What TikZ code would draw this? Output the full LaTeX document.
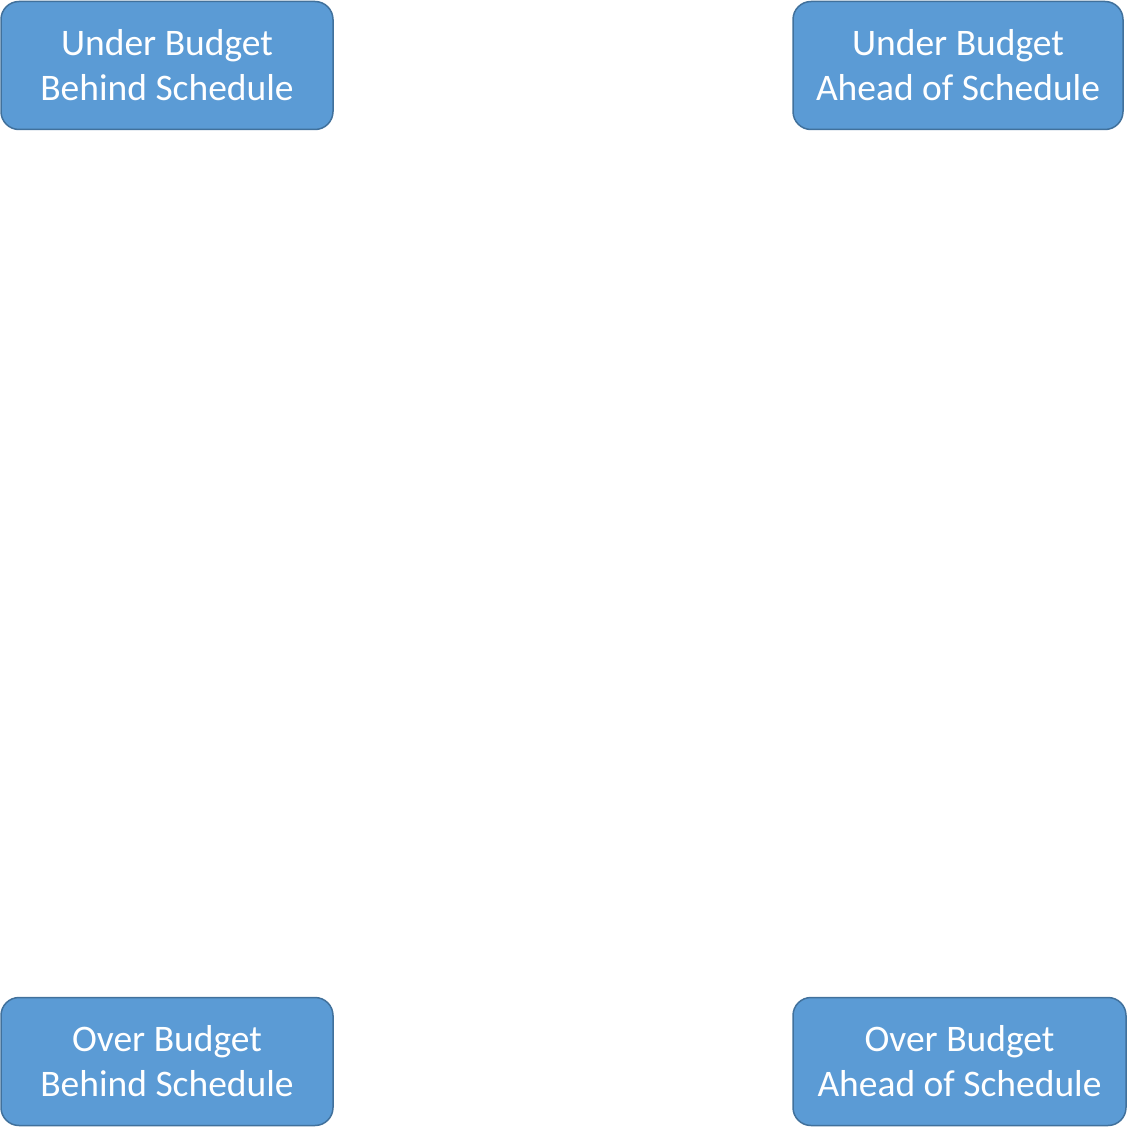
\documentclass[tikz,border=0pt]{standalone}
\usepackage{fontspec}
\setmainfont{Carlito}
\definecolor{boxfill}{HTML}{5B9BD5}
\definecolor{boxline}{HTML}{41719C}
\begin{document}
\begin{tikzpicture}[x=1pt,y=-1pt,
  quad/.style={draw=boxline, line width=1.5pt, fill=boxfill, rounded corners=18pt,
    minimum width=332pt, minimum height=128pt, inner sep=0pt, text=white,
    align=center, font=\fontsize{37.5}{45}\selectfont}]
\useasboundingbox (0,0) rectangle (1127,1129);
\node[quad] (ub) at (167,65.5) {Under Budget\\Behind Schedule};
\node[quad, minimum width=330pt] (ua) at (958,65.5) {Under Budget\\Ahead of Schedule};
\node[quad] (ob) at (167,1061.5) {Over Budget\\Behind Schedule};
\node[quad, minimum width=333pt] (oa) at (959.5,1061.5) {Over Budget\\Ahead of Schedule};
\end{tikzpicture}
\end{document}
